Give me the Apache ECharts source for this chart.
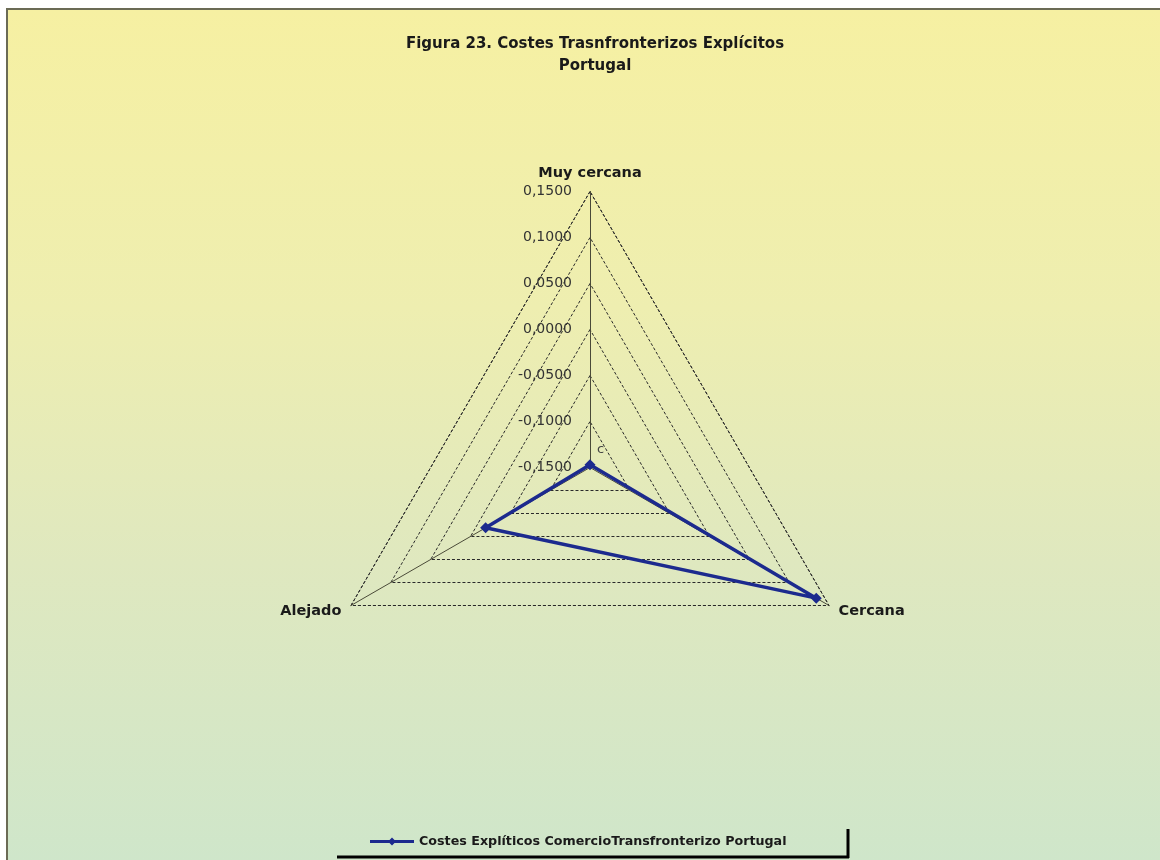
<!DOCTYPE html>
<html>
<head>
<meta charset="utf-8">
<script src="https://cdn.jsdelivr.net/npm/echarts@6/dist/echarts.min.js"></script>
<style>
  html, body { margin: 0; padding: 0; background: #ffffff; }
  #bg { position: absolute; left: 6px; top: 8px; width: 1154px; height: 852px;
        background: linear-gradient(to bottom, #f6f0a2 0%, #eeeeb0 35%, #dfe8bf 65%, #cfe6ca 100%);
        border-left: 2px solid #6b6b55; border-top: 2px solid #6b6b55; box-sizing: border-box; }
  #chart { position: absolute; left: 0; top: 0; width: 1160px; height: 860px; }
</style>
</head>
<body>
<div id="bg"></div>
<div id="chart"></div>
<script>
// Indicators in ECharts (counter-clockwise) order: top, bottom-left, bottom-right
const categories = ['Muy cercana', 'Alejado', 'Cercana'];
const seriesValues = [-0.147, -0.019, 0.134];
const seriesName = 'Costes Explíticos ComercioTransfronterizo Portugal';
const axisMin = -0.15;
const axisMax = 0.15;
const axisSplits = 6;

const FONT = 'DejaVu Sans, Liberation Sans, Arial, sans-serif';
const chart = echarts.init(document.getElementById('chart'), null, { renderer: 'canvas' });
const fmt = v => (Math.abs(v) < 1e-9 ? 0 : v).toFixed(4).replace('.', ',');

const indicators = categories.map((c, i) => {
  const ind = { name: c, min: axisMin, max: axisMax };
  if (i === 0) {
    ind.axisLabel = { show: true };
  }
  return ind;
});

chart.setOption({
  backgroundColor: 'transparent',
  animation: false,
  textStyle: { fontFamily: FONT },
  title: {
    text: 'Figura 23. Costes Trasnfronterizos Explícitos\nPortugal',
    left: 590,
    top: 28,
    textAlign: 'center',
    textStyle: { fontSize: 15, fontWeight: 'bold', color: '#1a1a1a', lineHeight: 22,
                 fontFamily: FONT, align: 'center' }
  },
  legend: {
    bottom: 7,
    left: 365,
    itemWidth: 44,
    itemHeight: 10,
    textStyle: { fontSize: 12.7, fontWeight: 'bold', color: '#1a1a1a', fontFamily: FONT },
    data: [{
      name: seriesName,
      icon: 'path://M0,3.6 L19.5,3.6 L22,1 L24.5,3.6 L44,3.6 L44,6.4 L24.5,6.4 L22,9 L19.5,6.4 L0,6.4 Z'
    }]
  },
  radar: {
    center: [590, 467.5],
    radius: 276,
    startAngle: 90,
    shape: 'polygon',
    splitNumber: axisSplits,
    indicator: indicators,
    axisName: { color: '#1a1a1a', fontSize: 14.5, fontWeight: 'bold', fontFamily: FONT },
    nameGap: 11,
    axisLine: { lineStyle: { color: '#4a4a38', width: 1 } },
    splitLine: { lineStyle: { color: '#2a2a2a', type: [3, 2], width: 1 } },
    splitArea: { show: false },
    axisTick: { show: false },
    axisLabel: { show: false, formatter: fmt, color: '#333333', fontSize: 14, margin: 18,
                 padding: [5, 0, 0, 0], fontFamily: FONT }
  },
  graphic: [
    { type: 'line', shape: { x1: 337, y1: 857, x2: 849, y2: 857 }, style: { stroke: '#000', lineWidth: 3 } },
    { type: 'line', shape: { x1: 848, y1: 829, x2: 848, y2: 858 }, style: { stroke: '#000', lineWidth: 3 } },
    { type: 'text', left: 597, top: 443, style: { text: 'c', fill: '#444', font: '13px DejaVu Sans' } }
  ],
  series: [{
    type: 'radar',
    name: seriesName,
    symbol: 'diamond',
    symbolSize: 11,
    lineStyle: { color: '#1c2a8e', width: 3.5 },
    itemStyle: { color: '#1c2a8e' },
    data: [{ name: seriesName, value: seriesValues }]
  }]
});
</script>
</body>
</html>
